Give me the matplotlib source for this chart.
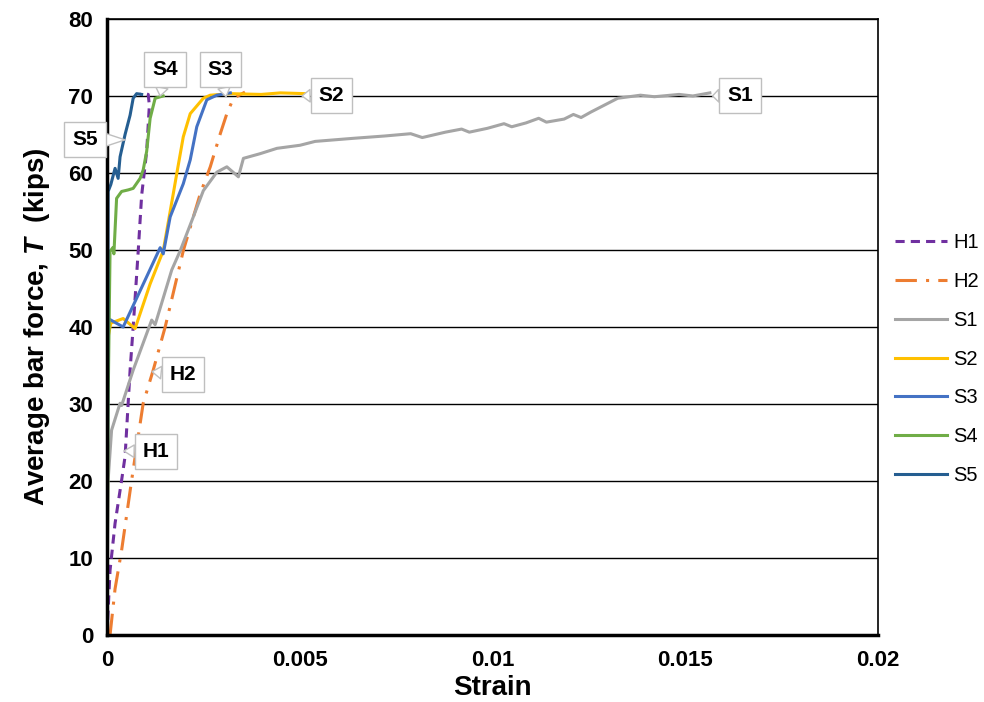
import matplotlib
matplotlib.use("Agg")
import matplotlib.pyplot as plt

plt.rcParams['font.family'] = ['Liberation Sans', 'DejaVu Sans']
plt.rcParams['mathtext.fontset'] = 'custom'
plt.rcParams['mathtext.bfit'] = 'Liberation Sans:bold:italic'
plt.rcParams['mathtext.rm'] = 'Liberation Sans:bold'

# strain / bar force data
h1_x = [0, 0.00008, 0.00021, 0.00038, 0.00047, 0.0006, 0.00068, 0.00076, 0.00081,
        0.0009, 0.00103, 0.0011, 0.00107, 0.00095, 0.00085]
h1_y = [0, 8.4, 14.5, 20.1, 23.2, 34.4, 40.0, 46.0, 49.8, 57.1, 62.8, 68.8, 70.2, 70.3, 70.2]

h2_x = [0.00008, 0.00021, 0.00038, 0.00064, 0.00094, 0.0012, 0.00151, 0.00198, 0.00242,
        0.00268, 0.00294, 0.00311, 0.00328, 0.00358]
h2_y = [0, 6.0, 11.0, 20.1, 30.1, 34.4, 40.0, 49.9, 57.3, 60.8, 65.1, 67.7, 69.7, 70.5]

s1_x = [0, 0.00001, 0.00003, 0.00012, 0.00034, 0.00038, 0.00068, 0.00116, 0.00125, 0.00168,
        0.0019, 0.00224, 0.0025, 0.00285, 0.00311, 0.00341, 0.00354, 0.00397, 0.00441,
        0.00501, 0.0054, 0.00639, 0.0072, 0.00788, 0.00818, 0.00878, 0.0092, 0.0094, 0.00987,
        0.0103, 0.0105, 0.01087, 0.0112, 0.0114, 0.01186, 0.0121, 0.0123, 0.01255, 0.0129,
        0.01325, 0.01384, 0.0142, 0.01484, 0.0152, 0.01564]
s1_y = [0, 10.0, 20.1, 26.6, 30.1, 29.8, 34.4, 40.9, 40.3, 47.4,
        49.9, 54.3, 57.7, 60.1, 60.8, 59.5, 61.9, 62.5, 63.2,
        63.6, 64.1, 64.5, 64.8, 65.1, 64.6, 65.3, 65.7, 65.3, 65.8,
        66.4, 66.0, 66.5, 67.1, 66.6, 67.0, 67.6, 67.2, 67.9, 68.8,
        69.7, 70.1, 69.9, 70.2, 70.0, 70.4]

s2_x = [0, 0.00001, 0.00003, 0.0001, 0.00042, 0.00073, 0.00112, 0.00146, 0.00172, 0.00181,
        0.00198, 0.00216, 0.0025, 0.00268, 0.0032, 0.004, 0.0045, 0.00514]
s2_y = [0, 31.0, 38.7, 40.5, 41.1, 39.8, 45.6, 49.9, 57.3, 59.9,
        64.7, 67.7, 69.7, 70.1, 70.3, 70.2, 70.4, 70.3]

s3_x = [0, 0.00002, 0.00003, 0.00042, 0.00086, 0.00138, 0.00146, 0.00164, 0.00198,
        0.00216, 0.00233, 0.00259, 0.00285, 0.0032]
s3_y = [0, 35.0, 41.1, 40.0, 44.7, 50.3, 49.5, 54.3, 58.6, 61.7, 66.0, 69.5, 70.1, 70.4]

s4_x = [0, 0.00003, 0.00008, 0.00015, 0.00018, 0.00025, 0.00038, 0.00055, 0.00068,
        0.00086, 0.00094, 0.00103, 0.00112, 0.00125, 0.00146]
s4_y = [0, 30.0, 49.8, 50.3, 49.5, 56.7, 57.6, 57.8, 58.0, 59.3, 60.4, 62.8, 67.1, 69.7, 70.0]

s5_x = [0, 0.00002, 0.00003, 0.0001, 0.00021, 0.00029, 0.00034, 0.00047, 0.0006,
        0.00068, 0.00077, 0.0009]
s5_y = [0, 30.0, 57.6, 58.5, 60.6, 59.3, 62.1, 65.0, 67.5, 69.7, 70.3, 70.2]

fig = plt.figure(figsize=(9.84, 7.02), dpi=100)
ax = fig.add_axes([0.1087, 0.0954, 0.7835, 0.8776])

lw = 2.2
ax.plot(h1_x, h1_y, color='#7030A0', lw=lw, dashes=(3, 2), label='H1')
ax.plot(h2_x, h2_y, color='#ED7D31', lw=lw, dashes=(7, 3, 1, 3), label='H2')
ax.plot(s1_x, s1_y, color='#A5A5A5', lw=lw, label='S1')
ax.plot(s2_x, s2_y, color='#FFC000', lw=lw, label='S2')
ax.plot(s3_x, s3_y, color='#4472C4', lw=lw, label='S3')
ax.plot(s4_x, s4_y, color='#70AD47', lw=lw, label='S4')
ax.plot(s5_x, s5_y, color='#255E91', lw=lw, label='S5')

# callout labels
labels = ['S4', 'S3', 'S2', 'S1', 'S5', 'H2', 'H1']
label_pos = [(0.00151, 73.4), (0.00294, 73.4), (0.00582, 70.1), (0.01642, 70.1),
             (-0.00057, 64.3), (0.00197, 33.8), (0.00127, 23.8)]
label_tip = [(0.00138, 70.0), (0.00309, 69.9), (0.00506, 70.0), (0.01571, 70.0),
             (0.00047, 64.3), (0.00117, 34.2), (0.00044, 23.9)]
for name, pos, tip in zip(labels, label_pos, label_tip):
    ax.annotate(name, xy=tip, xytext=pos, ha='center', va='center',
                fontsize=15, fontweight='bold', annotation_clip=False, zorder=5,
                bbox=dict(boxstyle='square,pad=0.38', fc='white', ec='#bfbfbf', lw=1),
                arrowprops=dict(arrowstyle='wedge,tail_width=0.6', fc='white',
                                ec='#bfbfbf', lw=1, shrinkA=0, shrinkB=0))

ax.set_xlim(0, 0.02)
ax.set_ylim(0, 80)
ax.set_xticks([0, 0.005, 0.01, 0.015, 0.02])
ax.set_xticklabels(['0', '0.005', '0.01', '0.015', '0.02'])
ax.set_yticks(range(0, 81, 10))
ax.tick_params(length=0, labelsize=16)
ax.tick_params(axis='x', pad=11)
ax.tick_params(axis='y', pad=10)
for t in ax.get_xticklabels() + ax.get_yticklabels():
    t.set_fontweight('bold')
ax.yaxis.grid(True, color='black', lw=1)
ax.set_axisbelow(True)
for side in ['top', 'right']:
    ax.spines[side].set_linewidth(1.2)
for side in ['left', 'bottom']:
    ax.spines[side].set_linewidth(2.5)

ax.set_xlabel('Strain', fontsize=20, fontweight='bold', labelpad=3)
ax.set_ylabel(r'Average bar force, $\mathbfit{T}$  (kips)', fontsize=20,
              fontweight='bold', labelpad=12)

ax.legend(loc='upper left', bbox_to_anchor=(1.022, 0.652), frameon=False, borderpad=0,
          borderaxespad=0, fontsize=14.5, handlelength=2.6, labelspacing=0.98,
          handletextpad=0.3)

fig.savefig('out.png', dpi=100)
